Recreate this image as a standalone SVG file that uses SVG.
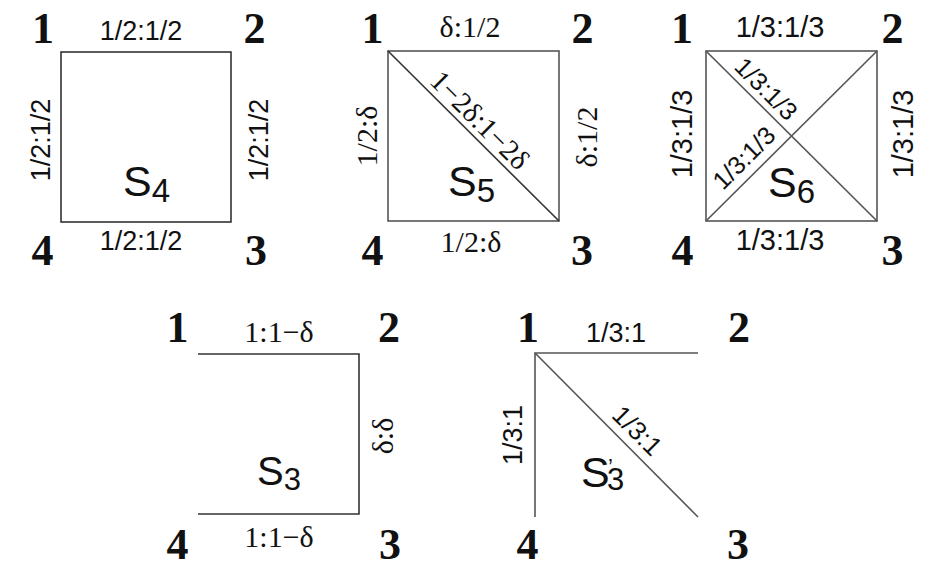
<svg xmlns="http://www.w3.org/2000/svg" width="925" height="562" viewBox="0 0 925 562">
<style>
.v{font-family:"Liberation Serif",serif;font-weight:bold;font-size:44px;fill:#111;text-anchor:middle}
.a{font-family:"Liberation Sans",Arial,sans-serif;font-size:27px;fill:#111;text-anchor:middle}
.a6{font-size:29px}
.d{font-family:"Liberation Sans",Arial,sans-serif;font-size:25px;fill:#111;text-anchor:middle}
.t{font-family:"Liberation Serif",serif;font-size:30px;fill:#111;text-anchor:middle}
.td{font-size:29px}
.s{font-family:"Liberation Sans",Arial,sans-serif;font-size:43px;fill:#111}
.sub{font-size:33px}
.e{fill:none;stroke:#333;stroke-width:1.6}
.g{fill:none;stroke:#555;stroke-width:1.6}
</style>
<rect width="925" height="562" fill="#fff"/>
<g id="connectors">
  <rect class="e" x="61" y="52" width="170" height="170"/>
  <rect class="g" x="388" y="51" width="171" height="170"/>
  <line class="e" x1="388" y1="51" x2="559" y2="221"/>
  <rect class="g" x="706" y="51" width="171" height="170"/>
  <line class="g" x1="706" y1="51" x2="877" y2="221"/>
  <line class="g" x1="706" y1="221" x2="877" y2="51"/>
  <polyline class="e" points="198,354 359,354 359,514 198,514"/>
  <polyline class="g" points="698,353 535,353 535,517"/>
  <line class="g" x1="535" y1="353" x2="698" y2="517"/>
</g>
<g id="S4">
  <text class="v" x="43" y="43">1</text>
  <text class="v" x="254.5" y="43">2</text>
  <text class="v" x="256" y="265">3</text>
  <text class="v" x="42.5" y="265">4</text>
  <text class="a" x="141" y="40">1/2:1/2</text>
  <text class="a" x="141" y="250">1/2:1/2</text>
  <text class="a" transform="translate(50,140) rotate(-90)">1/2:1/2</text>
  <text class="a" transform="translate(268,140) rotate(-90)">1/2:1/2</text>
  <text class="s" x="123" y="196">S<tspan class="sub" dy="6">4</tspan></text>
</g>
<g id="S5">
  <text class="v" x="372.5" y="43">1</text>
  <text class="v" x="582.5" y="43">2</text>
  <text class="v" x="582" y="265">3</text>
  <text class="v" x="372.5" y="265">4</text>
  <text class="t" x="470" y="37">δ:1/2</text>
  <text class="t" x="471" y="252">1/2:δ</text>
  <text class="t" transform="translate(377,136) rotate(-90)">1/2:δ</text>
  <text class="t" transform="translate(597,137) rotate(-90)">δ:1/2</text>
  <text class="t td" transform="translate(473,127) rotate(45)">1−2δ:1−2δ</text>
  <text class="s" x="448" y="196">S<tspan class="sub" dy="6">5</tspan></text>
</g>
<g id="S6">
  <text class="v" x="682" y="43">1</text>
  <text class="v" x="892.5" y="43">2</text>
  <text class="v" x="892.5" y="265">3</text>
  <text class="v" x="682.5" y="265">4</text>
  <text class="a a6" x="780" y="37">1/3:1/3</text>
  <text class="a a6" x="780" y="250">1/3:1/3</text>
  <text class="a a6" transform="translate(692,134) rotate(-90)">1/3:1/3</text>
  <text class="a a6" transform="translate(913,134) rotate(-90)">1/3:1/3</text>
  <text class="d" transform="translate(760,95) rotate(45)">1/3:1/3</text>
  <text class="d" transform="translate(750,164) rotate(-45)">1/3:1/3</text>
  <text class="s" x="768" y="197">S<tspan class="sub" dy="6">6</tspan></text>
</g>
<g id="S3">
  <text class="v" x="177.5" y="342">1</text>
  <text class="v" x="389" y="342">2</text>
  <text class="v" x="390" y="559">3</text>
  <text class="v" x="177.5" y="559">4</text>
  <text class="t" x="279" y="342">1:1−δ</text>
  <text class="t" x="279" y="547">1:1−δ</text>
  <text class="t" transform="translate(393,436) rotate(-90)">δ:δ</text>
  <text class="s" x="257" y="485" style="font-size:40px">S<tspan class="sub" style="font-size:31px" dy="5">3</tspan></text>
</g>
<g id="S3prime">
  <text class="v" x="528" y="342">1</text>
  <text class="v" x="739" y="342">2</text>
  <text class="v" x="738" y="559">3</text>
  <text class="v" x="527.5" y="559">4</text>
  <text class="a" x="616" y="342">1/3:1</text>
  <text class="a" transform="translate(522,435) rotate(-90)">1/3:1</text>
  <text class="d" style="font-size:26px" transform="translate(631,437) rotate(45)">1/3:1</text>
  <text class="s" x="581" y="487">S<tspan x="608" y="474" style="font-size:22px">’</tspan><tspan x="607" y="490" style="font-size:31px">3</tspan></text>
</g>
</svg>
